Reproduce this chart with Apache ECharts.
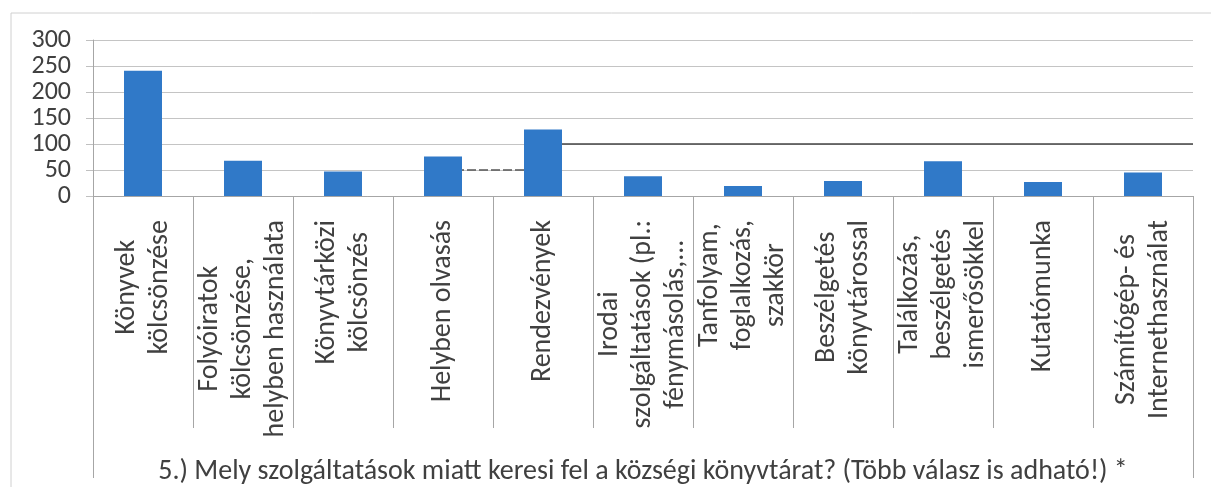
<!DOCTYPE html>
<html>
<head>
<meta charset="utf-8">
<script src="https://cdn.jsdelivr.net/npm/echarts@6/dist/echarts.min.js"></script>
<style>
    html, body { margin: 0; padding: 0; background: #ffffff; }
    #chart { width: 1211px; height: 487px; }
</style>
</head>
<body>
<div id="chart"></div>
<script>
// 分类名称（多行）
const categories = [
    'Könyvek\nkölcsönzése',
    'Folyóiratok\nkölcsönzése,\nhelyben használata',
    'Könyvtárközi\nkölcsönzés',
    'Helyben olvasás',
    'Rendezvények',
    'Irodai\nszolgáltatások (pl.:\nfénymásolás,...',
    'Tanfolyam,\nfoglalkozás,\nszakkör',
    'Beszélgetés\nkönyvtárossal',
    'Találkozás,\nbeszélgetés\nismerősökkel',
    'Kutatómunka',
    'Számítógép- és\nInternethasználat'
];
// 数值
const values = [241, 68, 47, 76, 128, 38, 19, 29, 67, 27, 45];
// 纵轴刻度
const yMin = 0;
const yMax = 300;
const yStep = 50;
// 横轴标题
const axisTitle = '5.) Mely szolgáltatások miatt keresi fel a községi könyvtárat? (Több válasz is adható!) *';

const fontFamily = 'Carlito, "Open Sans", sans-serif';
const textColor = '#404040';
const lineColor = '#a6a6a6';

let chart = echarts.init(document.getElementById('chart'));

let option = {
    animation: false,
    backgroundColor: '#ffffff',
    // 外框
    graphic: [{
        type: 'rect',
        shape: { x: 11, y: 13, width: 1400, height: 600 },
        style: { fill: 'none', stroke: '#d0d0d0', lineWidth: 1 },
        silent: true
    }],
    grid: {
        left: 93,
        top: 40,
        right: 18,
        bottom: 289
    },
    xAxis: [{
        type: 'category',
        data: categories,
        position: 'bottom',
        axisLine: { show: true, onZero: false, lineStyle: { color: lineColor, width: 1 } },
        axisTick: {
            show: true,
            interval: 0,
            length: 232,
            lineStyle: { color: lineColor }
        },
        axisLabel: {
            interval: 0,
            rotate: 90,
            margin: 24,
            formatter: function (v) {
                return v.split('\n').map(s => '{c|' + s + '}').join('\n');
            },
            rich: {
                c: {
                    align: 'center',
                    fontSize: 28,
                    lineHeight: 33,
                    fontFamily: fontFamily,
                    color: textColor
                }
            }
        },
        name: axisTitle,
        nameLocation: 'middle',
        nameGap: 262,
        nameTextStyle: {
            fontSize: 28,
            fontFamily: fontFamily,
            color: textColor
        }
    }, {
        // 两侧边框线
        type: 'category',
        data: categories,
        position: 'bottom',
        offset: 0,
        axisLine: { show: false, onZero: false },
        axisLabel: { show: false },
        axisTick: {
            show: true,
            interval: function (index) { return index === 0; },
            length: 282,
            lineStyle: { color: lineColor }
        }
    }, {
        // 辅助数值轴（用于图中两条深色横线）
        type: 'value',
        min: 0,
        max: categories.length,
        show: false,
        axisLine: { onZero: false }
    }],
    yAxis: {
        type: 'value',
        min: yMin,
        max: yMax,
        interval: yStep,
        axisLine: { show: true, onZero: false, lineStyle: { color: lineColor } },
        axisTick: { show: true, length: 7, lineStyle: { color: '#c0c0c0' } },
        splitLine: { show: true, lineStyle: { color: '#c4c4c4', width: 1.2 } },
        axisLabel: {
            margin: 22,
            showMinLabel: true,
            showMaxLabel: true,
            fontSize: 26,
            fontFamily: fontFamily,
            color: textColor
        }
    },
    series: [{
        type: 'bar',
        data: values,
        barWidth: 38,
        itemStyle: { color: '#3079c8' },
        z: 3
    }, {
        type: 'line',
        xAxisIndex: 2,
        data: [],
        z: 1,
        markLine: {
            z: 1,
            symbol: 'none',
            silent: true,
            label: { show: false },
            lineStyle: { color: '#444444', width: 1.5, type: 'solid' },
            data: [
                [{ coord: [3.5, 50], lineStyle: { type: [9, 3], color: '#555555' } }, { coord: [4.5, 50] }],
                [{ coord: [4.5, 100] }, { coord: [categories.length, 100] }]
            ]
        }
    }]
};

chart.setOption(option);
</script>
</body>
</html>
